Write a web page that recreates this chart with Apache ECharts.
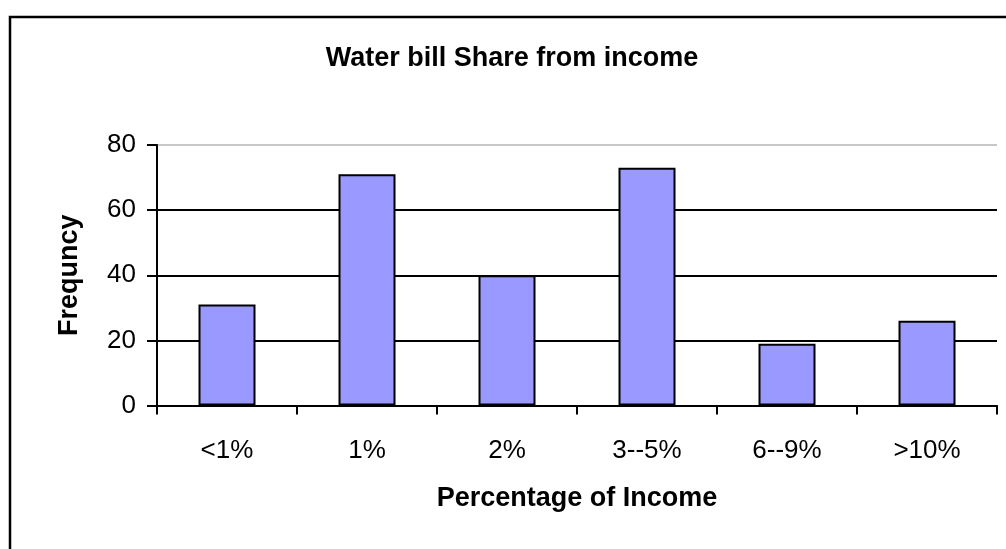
<!DOCTYPE html>
<html>
<head>
<meta charset="utf-8">
<script src="https://cdn.jsdelivr.net/npm/echarts@6/dist/echarts.min.js"></script>
<style>
html,body{margin:0;padding:0;background:#fff;}
#chart{width:1006px;height:549px;}
</style>
</head>
<body>
<div id="chart"></div>
<script>
const categories = ['<1%', '1%', '2%', '3--5%', '6--9%', '>10%'];
const frequency = [31, 71, 40, 73, 19, 26];
const yTicks = [0, 20, 40, 60, 80];
const titleText = 'Water bill Share from income';
const xName = 'Percentage of Income';
const yName = 'Frequncy';

const chart = echarts.init(document.getElementById('chart'), null, {renderer: 'canvas'});
const font = 'Liberation Sans, Arial, sans-serif';
chart.setOption({
  animation: false,
  backgroundColor: '#ffffff',
  graphic: [{
    type: 'rect',
    shape: {x: 10, y: 17, width: 1100, height: 700},
    style: {fill: 'none', stroke: '#000', lineWidth: 2.5},
    silent: true
  }],
  title: {
    text: titleText,
    left: 512,
    top: 45,
    padding: 0,
    textAlign: 'center',
    textStyle: {fontFamily: font, fontSize: 27, fontWeight: 'bold', color: '#000'}
  },
  grid: {left: 157, right: 9, top: 145, bottom: 143.5, containLabel: false},
  xAxis: {
    type: 'category',
    data: categories,
    boundaryGap: true,
    name: xName,
    nameLocation: 'middle',
    nameGap: 80,
    nameTextStyle: {fontFamily: font, fontSize: 27, fontWeight: 'bold', color: '#000'},
    axisLine: {show: true, lineStyle: {color: '#000', width: 2}},
    axisTick: {show: true, alignWithLabel: false, length: 9, lineStyle: {color: '#000', width: 2}},
    axisLabel: {margin: 32, fontFamily: font, fontSize: 26, color: '#000'},
    splitLine: {show: false}
  },
  yAxis: {
    type: 'value',
    min: yTicks[0],
    max: yTicks[yTicks.length - 1],
    interval: yTicks[1] - yTicks[0],
    name: yName,
    nameLocation: 'middle',
    nameGap: 74,
    nameTextStyle: {fontFamily: font, fontSize: 27, fontWeight: 'bold', color: '#000'},
    axisLine: {show: true, lineStyle: {color: '#000', width: 2}},
    axisTick: {show: true, inside: false, length: 10, lineStyle: {color: '#000', width: 2}},
    axisLabel: {margin: 21, fontFamily: font, fontSize: 26, color: '#000'},
    splitLine: {show: true, lineStyle: {color: ['#000', '#000', '#000', '#000', '#c8c8c8'], width: 2}}
  },
  series: [{
    type: 'bar',
    data: frequency,
    barWidth: 57,
    itemStyle: {color: '#9999FF', borderColor: '#000', borderWidth: 2}
  }]
});
</script>
</body>
</html>
